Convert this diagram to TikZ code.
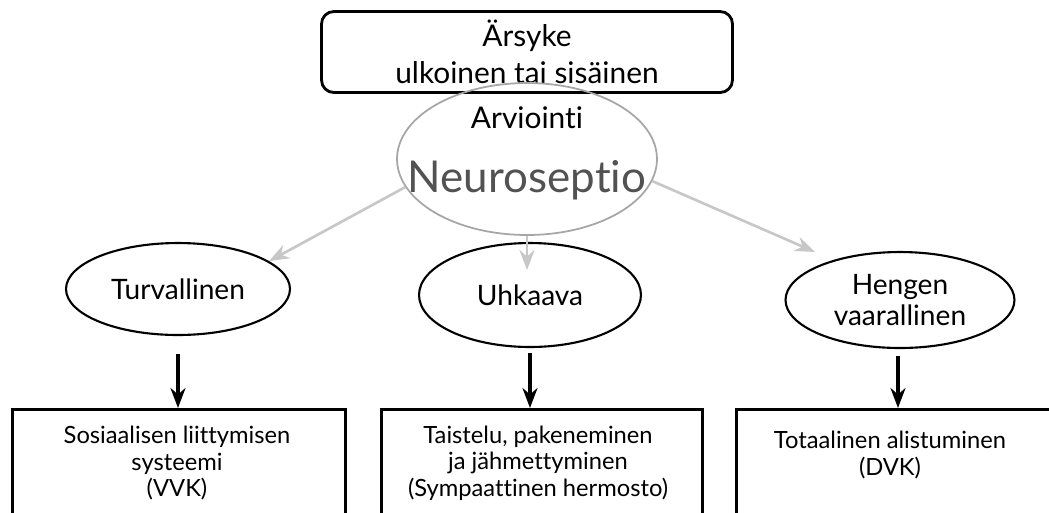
\documentclass[tikz,border=0pt]{standalone}
\usepackage{fontspec}
\setmainfont{Lato}[Ligatures={NoCommon}]
\usetikzlibrary{arrows.meta, positioning, shapes.geometric}
\tikzset{
  topbox/.style={draw, rounded corners=7pt, line width=1.6pt, minimum width=8.22cm, minimum height=1.62cm, align=center, font=\fontsize{17}{21}\selectfont},
  resp/.style={draw, ellipse, line width=1.2pt, inner sep=0pt, align=center, font=\fontsize{16}{18}\selectfont},
  outbox/.style={draw, line width=1.7pt, anchor=north, minimum height=2.6cm},
  outtext/.style={align=center, font=\fontsize{13.5}{15}\selectfont},
  greyarr/.style={-{Stealth[length=4mm, width=3mm]}, line width=1.5pt, black!22},
  arr/.style={-{Stealth[length=4mm, width=3mm]}, line width=1.8pt},
}

\begin{document}
\begin{tikzpicture}[x=0.02cm, y=-0.02cm]
    \useasboundingbox (0,0) rectangle (1049,512);
    \clip (0,0) rectangle (1049,512);
    % stimulus and appraisal
    \node[topbox] (stim) at (527,52) {Ärsyke\\ulkoinen tai sisäinen};
    \node[draw=black!35, line width=1pt, ellipse, minimum width=5.2cm, minimum height=3.04cm] (neuro) at (527,159) {};
    \node[anchor=base, font=\fontsize{17}{21}\selectfont] (arv) at (527,128) {Arviointi};
    \node[anchor=base, text=black!68, font=\fontsize{25}{30}\selectfont] (neurotext) at (527,192) {Neuroseptio};
    % the three states
    \node[resp, minimum width=4.48cm, minimum height=1.84cm] (turva) at (178,289) {Turvallinen};
    \node[resp, minimum width=4.44cm, minimum height=2.08cm] (uhka) at (530,295) {Uhkaava};
    \node[resp, minimum width=4.58cm, minimum height=1.92cm] (henki) at (900,300) {Hengen\\vaarallinen};
    \draw[greyarr] (neuro.193) -- (turva.17);
    \draw[greyarr, shorten >=0.5cm] (neuro.south) -- (neuro.south |- uhka.center);
    \draw[greyarr, shorten >=0.4cm] (neuro.350) -- (henki.149);
    % responses
    \node[outbox, minimum width=6.68cm] (vvkbox) at (179,408) {};
    \node[outbox, minimum width=6.42cm] (sympbox) at (542,408) {};
    \node[outbox, minimum width=6.46cm] (dvkbox) at (898,408) {};
    \node[outtext] (vvk) at (177,463) {Sosiaalisen liittymisen\\systeemi\\(VVK)};
    \node[outtext] (symp) at (538,463) {Taistelu, pakeneminen\\ja jähmettyminen\\(Sympaattinen hermosto)};
    \node[outtext] (dvk) at (890,455) {Totaalinen alistuminen\\(DVK)};
    \draw[arr, shorten <=0.36cm] (turva.south) -- (turva.south |- vvkbox.north);
    \draw[arr, shorten <=0.1cm] (uhka.south) -- (uhka.south |- sympbox.north);
    \draw[arr, shorten <=0.14cm] ([xshift=-0.04cm]henki.south) -- ([xshift=-0.04cm]henki.south |- dvkbox.north);
\end{tikzpicture}
\end{document}
